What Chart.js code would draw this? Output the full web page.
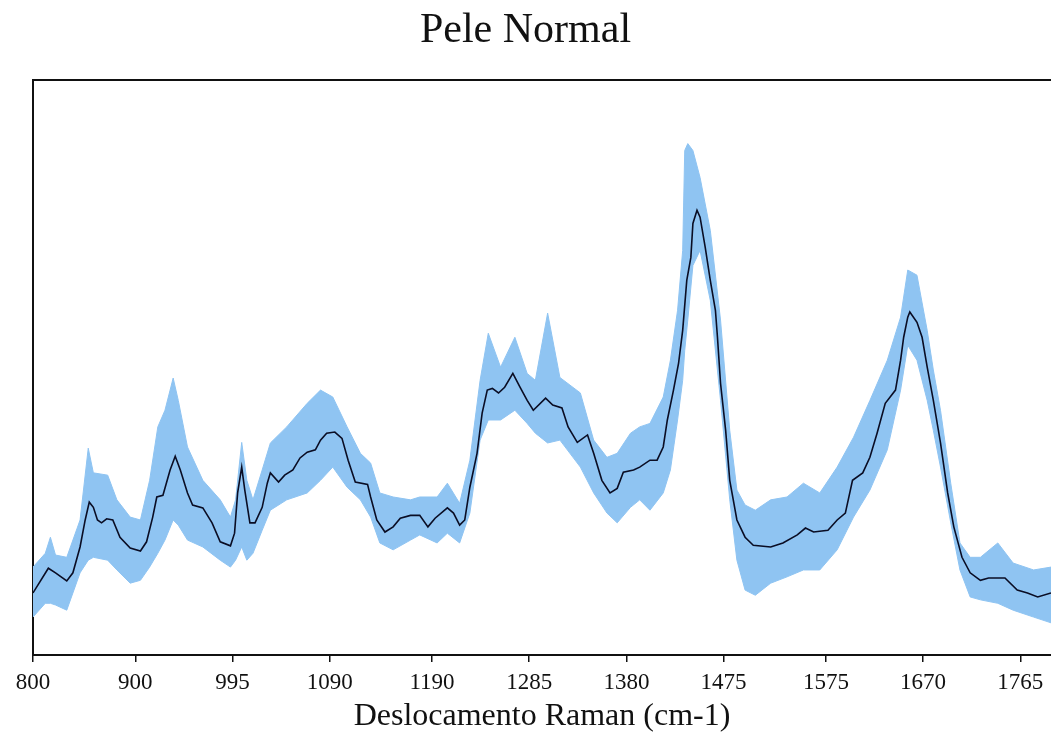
<!DOCTYPE html>
<html>
<head>
<meta charset="utf-8">
<title>Pele Normal</title>
<script src="https://cdn.jsdelivr.net/npm/chart.js@4.4.1/dist/chart.umd.min.js"></script>
<style>
    html, body { margin: 0; padding: 0; background: #fff; }
    #wrap { width: 1051px; height: 736px; }
</style>
</head>
<body>
<div id="wrap"><canvas id="spectrum" width="1051" height="736"></canvas></div>
<script>
// ============================================================
// Dados (eixo y sem escala -> 0..100)
// ============================================================
const tickValues = [800, 900, 995, 1090, 1190, 1285, 1380, 1475, 1575, 1670, 1765];

// espectro médio
const meanWn = [
    800, 815, 822, 833, 839, 846, 851, 855, 859, 863,
    867, 872, 878, 885, 895, 905, 911, 917, 921, 927,
    934, 939, 944, 951, 956, 966, 975, 983, 993, 997,
    1000, 1004, 1007, 1012, 1017, 1024, 1029, 1032, 1040, 1046,
    1054, 1061, 1068, 1076, 1081, 1087, 1095, 1102, 1108, 1115,
    1127, 1130, 1136, 1144, 1152, 1159, 1169, 1178, 1186, 1193,
    1205, 1211, 1217, 1222, 1227, 1234, 1239, 1244, 1249, 1255,
    1261, 1269, 1276, 1283, 1289, 1301, 1308, 1317, 1323, 1332,
    1342, 1348, 1356, 1364, 1371, 1377, 1387, 1393, 1403, 1410,
    1416, 1420, 1426, 1431, 1435, 1439, 1443, 1445, 1449, 1452,
    1457, 1462, 1467, 1469, 1472, 1477, 1481, 1488, 1496, 1504,
    1521, 1533, 1547, 1555, 1563, 1577, 1586, 1594, 1601, 1611,
    1618, 1625, 1633, 1643, 1648, 1651, 1655, 1657, 1664, 1669,
    1674, 1680, 1687, 1694, 1700, 1708, 1716, 1726, 1734, 1750,
    1762, 1772, 1782, 1795
];
const meanVal = [
    10.8, 15.1, 14.3, 12.9, 14.3, 18.8, 23.5, 26.6, 25.7, 23.5,
    23.0, 23.7, 23.5, 20.5, 18.6, 18.1, 19.7, 24.0, 27.5, 27.8,
    32.2, 34.6, 32.2, 28.2, 26.1, 25.6, 23.0, 19.7, 19.0, 21.2,
    28.2, 32.7, 28.7, 23.0, 23.0, 25.7, 29.9, 31.7, 30.1, 31.3,
    32.2, 34.3, 35.3, 35.7, 37.4, 38.6, 38.8, 37.7, 33.9, 30.1,
    29.7, 27.5, 23.5, 21.4, 22.3, 23.8, 24.3, 24.3, 22.3, 23.8,
    25.6, 24.7, 22.6, 23.5, 29.2, 35.1, 42.1, 46.1, 46.4, 45.6,
    46.6, 49.0, 46.6, 44.3, 42.6, 44.7, 43.5, 43.0, 39.7, 37.0,
    38.3, 35.1, 30.4, 28.2, 29.0, 31.8, 32.2, 32.7, 33.9, 33.9,
    36.2, 40.9, 46.1, 50.8, 56.5, 65.2, 69.2, 75.1, 77.4, 76.2,
    71.0, 65.2, 60.0, 55.3, 47.3, 39.1, 30.4, 23.5, 20.5, 19.1,
    18.8, 19.5, 20.9, 22.1, 21.4, 21.7, 23.5, 24.7, 30.4, 31.7,
    34.4, 38.6, 43.8, 46.1, 51.3, 55.3, 58.8, 59.7, 57.9, 55.3,
    50.1, 44.3, 36.9, 28.2, 22.3, 17.0, 14.3, 13.0, 13.4, 13.4,
    11.3, 10.8, 10.1, 10.8
];

// faixa de desvio (limites superior e inferior)
const bandWn = [
    800, 812, 817, 822, 833, 846, 854, 859, 873, 882,
    895, 905, 914, 922, 929, 937, 942, 951, 966, 983,
    993, 998, 1004, 1009, 1015, 1024, 1032, 1048, 1068, 1081,
    1093, 1107, 1120, 1130, 1139, 1152, 1169, 1178, 1195, 1205,
    1217, 1227, 1237, 1245, 1257, 1271, 1283, 1291, 1303, 1315,
    1335, 1348, 1361, 1371, 1384, 1393, 1403, 1416, 1423, 1430,
    1435, 1437, 1440, 1445, 1452, 1462, 1472, 1481, 1488, 1496,
    1506, 1521, 1537, 1553, 1569, 1586, 1602, 1618, 1635, 1648,
    1655, 1664, 1674, 1680, 1687, 1697, 1706, 1716, 1726, 1743,
    1758, 1778, 1795
];
const bandUpper = [
    15.3, 17.7, 20.5, 17.4, 17.0, 23.5, 36.0, 31.7, 31.3, 27.0,
    24.0, 23.5, 30.4, 39.7, 42.6, 48.2, 44.3, 36.2, 30.4, 27.0,
    24.0, 27.0, 37.0, 30.4, 27.0, 32.2, 36.9, 39.7, 43.8, 46.1,
    44.9, 39.7, 35.1, 33.4, 28.2, 27.5, 27.0, 27.5, 27.5, 29.9,
    26.4, 33.9, 47.8, 56.0, 50.1, 55.3, 49.0, 47.8, 59.5, 48.3,
    45.6, 37.4, 34.4, 35.1, 38.6, 39.7, 40.3, 44.9, 51.3, 60.0,
    70.4, 87.8, 89.0, 87.8, 83.1, 73.9, 58.3, 39.1, 28.7, 26.1,
    25.2, 27.0, 27.5, 29.9, 28.2, 32.7, 37.9, 44.3, 51.3, 58.8,
    67.0, 66.1, 56.5, 49.6, 42.6, 29.9, 19.5, 17.0, 17.0, 19.5,
    16.0, 14.8, 15.3
];
const bandLower = [
    6.6, 9.0, 9.0, 8.7, 7.8, 14.3, 16.5, 17.0, 16.5, 14.8,
    12.5, 13.0, 15.3, 17.7, 20.0, 23.5, 22.6, 20.0, 18.8, 16.5,
    15.3, 16.5, 18.8, 16.5, 17.7, 21.7, 25.2, 27.0, 28.2, 30.4,
    32.7, 29.2, 27.0, 24.0, 19.5, 18.3, 20.0, 20.9, 19.5, 21.2,
    19.5, 24.7, 37.4, 40.9, 40.9, 42.6, 40.3, 38.6, 36.9, 37.4,
    32.7, 28.2, 24.7, 23.0, 25.7, 27.0, 25.2, 28.2, 32.2, 40.9,
    47.8, 53.0, 58.3, 67.8, 70.4, 61.7, 44.3, 27.0, 16.5, 11.3,
    10.4, 12.5, 13.6, 14.8, 14.8, 18.3, 24.0, 28.7, 35.7, 46.1,
    53.9, 51.3, 44.3, 39.1, 32.7, 23.0, 14.8, 10.1, 9.6, 9.0,
    7.8, 6.6, 5.6
];

// ============================================================
// Estilo
// ============================================================
const SERIF = "'Liberation Serif', 'Times New Roman', serif";
const INK = '#111111';
const BAND = 'rgb(143, 196, 242)';
const LINE = '#0a0d24';

const toPoints = (xs, ys) => xs.map((x, i) => ({ x: x, y: ys[i] }));

// ============================================================
// Gráfico
// ============================================================
new Chart(document.getElementById('spectrum'), {
    type: 'line',
    data: {
        datasets: [
            {
                label: 'Média',
                data: toPoints(meanWn, meanVal),
                borderColor: LINE,
                borderWidth: 1.6,
                pointRadius: 0,
                fill: false,
                tension: 0
            },
            {
                label: 'Superior',
                data: toPoints(bandWn, bandUpper),
                borderColor: BAND,
                borderWidth: 1,
                backgroundColor: BAND,
                pointRadius: 0,
                fill: '+1',
                tension: 0
            },
            {
                label: 'Inferior',
                data: toPoints(bandWn, bandLower),
                borderColor: BAND,
                borderWidth: 1,
                pointRadius: 0,
                fill: false,
                tension: 0
            }
        ]
    },
    options: {
        responsive: false,
        animation: false,
        layout: { padding: 0 },
        plugins: {
            legend: { display: false },
            tooltip: { enabled: false },
            title: {
                display: true,
                text: 'Pele Normal',
                color: INK,
                font: { family: SERIF, size: 42, weight: 'normal', lineHeight: 1.2 },
                padding: { top: 6, bottom: 24 }
            }
        },
        scales: {
            x: {
                type: 'linear',
                position: 'bottom',
                min: 800,
                max: 1795,
                afterBuildTicks: s => { s.ticks = tickValues.map(v => ({ value: v })); },
                afterFit: s => { s.height = 81; },
                ticks: {
                    color: INK,
                    font: { family: SERIF, size: 23 },
                    padding: 7,
                    maxRotation: 0,
                    autoSkip: false,
                    callback: v => String(v)
                },
                grid: {
                    display: true,
                    drawOnChartArea: false,
                    drawTicks: true,
                    tickLength: 7,
                    color: INK,
                    lineWidth: 1.5
                },
                border: { display: true, color: INK, width: 2 },
                title: {
                    display: true,
                    text: 'Deslocamento Raman (cm-1)',
                    color: INK,
                    font: { family: SERIF, size: 32, lineHeight: 1.2 },
                    padding: { top: 0, bottom: 0 }
                }
            },
            xTop: {
                type: 'linear',
                position: 'top',
                min: 800,
                max: 1795,
                ticks: { display: false },
                grid: { display: false, drawTicks: false },
                border: { display: true, color: INK, width: 2 },
                afterFit: s => { s.height = 0; }
            },
            y: {
                min: 0,
                max: 100,
                ticks: { display: false },
                grid: { display: false, drawTicks: false },
                border: { display: true, color: INK, width: 2 },
                afterFit: s => { s.width = 33; }
            }
        }
    }
});
</script>
</body>
</html>
